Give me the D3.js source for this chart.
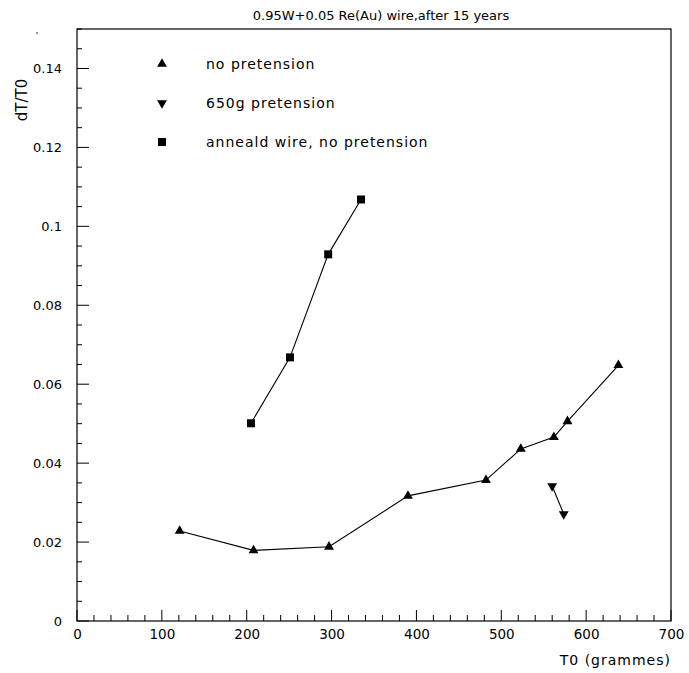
<!DOCTYPE html>
<html><head><meta charset="utf-8">
<script src="https://cdn.jsdelivr.net/npm/d3@7"></script>
<style>body{margin:0;background:#fff}svg{display:block}text{font-family:"DejaVu Sans",sans-serif;fill:#000}</style>
</head><body><svg id="c" width="689" height="673"></svg>
<script>
const title = "0.95W+0.05 Re(Au) wire,after 15 years";
const xLabel = "T0 (grammes)";
const yLabel = "dT/T0";
const xTicks = [0,100,200,300,400,500,600,700];
const yTicks = [0,0.02,0.04,0.06,0.08,0.1,0.12,0.14];
const yTickLabels = ["0","0.02","0.04","0.06","0.08","0.1","0.12","0.14"];
const noPreX = [121,208,297,390,482,523,562,578,638];
const noPreY = [0.0228,0.0179,0.0188,0.0317,0.0357,0.0436,0.0466,0.0506,0.0648];
const preX = [560,573.6];
const preY = [0.0342,0.0271];
const annX = [205,251,296,334.7];
const annY = [0.0501,0.0668,0.0929,0.1068];
const legendLabels = ["no pretension","650g pretension","anneald wire, no pretension"];

const svg = d3.select("#c");
const L=77,R=671,T=29,B=621;
const x = d3.scaleLinear().domain([0,700]).range([L,R]);
const y = d3.scaleLinear().domain([0,0.15]).range([B,T]);

// frame
svg.append("rect").attr("x",L).attr("y",T).attr("width",R-L).attr("height",B-T)
  .attr("fill","none").attr("stroke","#000").attr("stroke-width",1.2);

// x ticks
const xMinor = d3.range(0,701,20);
svg.append("g").selectAll("line").data(xMinor).join("line")
  .attr("x1",d=>x(d)).attr("x2",d=>x(d)).attr("y1",B)
  .attr("y2",d=>B-(d%100===0?11:6)).attr("stroke","#000").attr("stroke-width",1);
const xa = d3.axisBottom(x).tickValues(xTicks).tickSize(0).tickPadding(6).tickFormat(d3.format("d"));
const gx = svg.append("g").attr("transform",`translate(0,${B})`).call(xa);
gx.select(".domain").remove();
gx.selectAll("text").attr("font-size",13.5).style("font-family","DejaVu Sans, sans-serif").attr("dy","0.9em");

// y ticks
const yMinor = d3.range(0,151,5).map(v=>v/1000);
svg.append("g").selectAll("line").data(yMinor).join("line")
  .attr("y1",d=>y(d)).attr("y2",d=>y(d)).attr("x1",L)
  .attr("x2",(d,i)=>L+(i%4===0?12:5)).attr("stroke","#000").attr("stroke-width",1);
const ya = d3.axisLeft(y).tickValues(yTicks).tickSize(0).tickPadding(15).tickFormat((d,i)=>yTickLabels[i]);
const gy = svg.append("g").attr("transform",`translate(${L},0)`).call(ya);
gy.select(".domain").remove();
gy.selectAll("text").attr("font-size",13).style("font-family","DejaVu Sans, sans-serif");

// labels
svg.append("text").attr("x",381).attr("y",20).attr("text-anchor","middle").attr("font-size",13).text(title);
svg.append("text").attr("x",R).attr("y",665).attr("text-anchor","end").attr("font-size",14).attr("letter-spacing",1).text(xLabel);
svg.append("text").attr("transform","translate(27,100) rotate(-90)").attr("text-anchor","middle").attr("font-size",15).text(yLabel);
svg.append("circle").attr("cx",37).attr("cy",33).attr("r",0.8).attr("fill","#000");

const line = d3.line().x(d=>x(d[0])).y(d=>y(d[1]));
const up = d3.symbol().type(d3.symbolTriangle).size(42);
const sq = d3.symbol().type(d3.symbolSquare).size(64);

function series(xs,ys,sym,rot){
  const pts = xs.map((v,i)=>[v,ys[i]]);
  svg.append("path").attr("d",line(pts)).attr("fill","none").attr("stroke","#000").attr("stroke-width",1.1);
  svg.append("g").selectAll("path").data(pts).join("path").attr("d",sym())
    .attr("transform",d=>`translate(${x(d[0])},${y(d[1])}) rotate(${rot})`).attr("fill","#000");
}
series(noPreX,noPreY,up,0);
series(preX,preY,up,180);
series(annX,annY,sq,0);

// legend
const legY=[64,103,142];
const syms=[[up,0],[up,180],[sq,0]];
legendLabels.forEach((t,i)=>{
  svg.append("path").attr("d",syms[i][0]()).attr("transform",`translate(162,${legY[i]}) rotate(${syms[i][1]})`).attr("fill","#000");
  svg.append("text").attr("x",206).attr("y",legY[i]).attr("dy","0.35em").attr("font-size",14).attr("letter-spacing",1).text(t);
});
</script></body></html>
